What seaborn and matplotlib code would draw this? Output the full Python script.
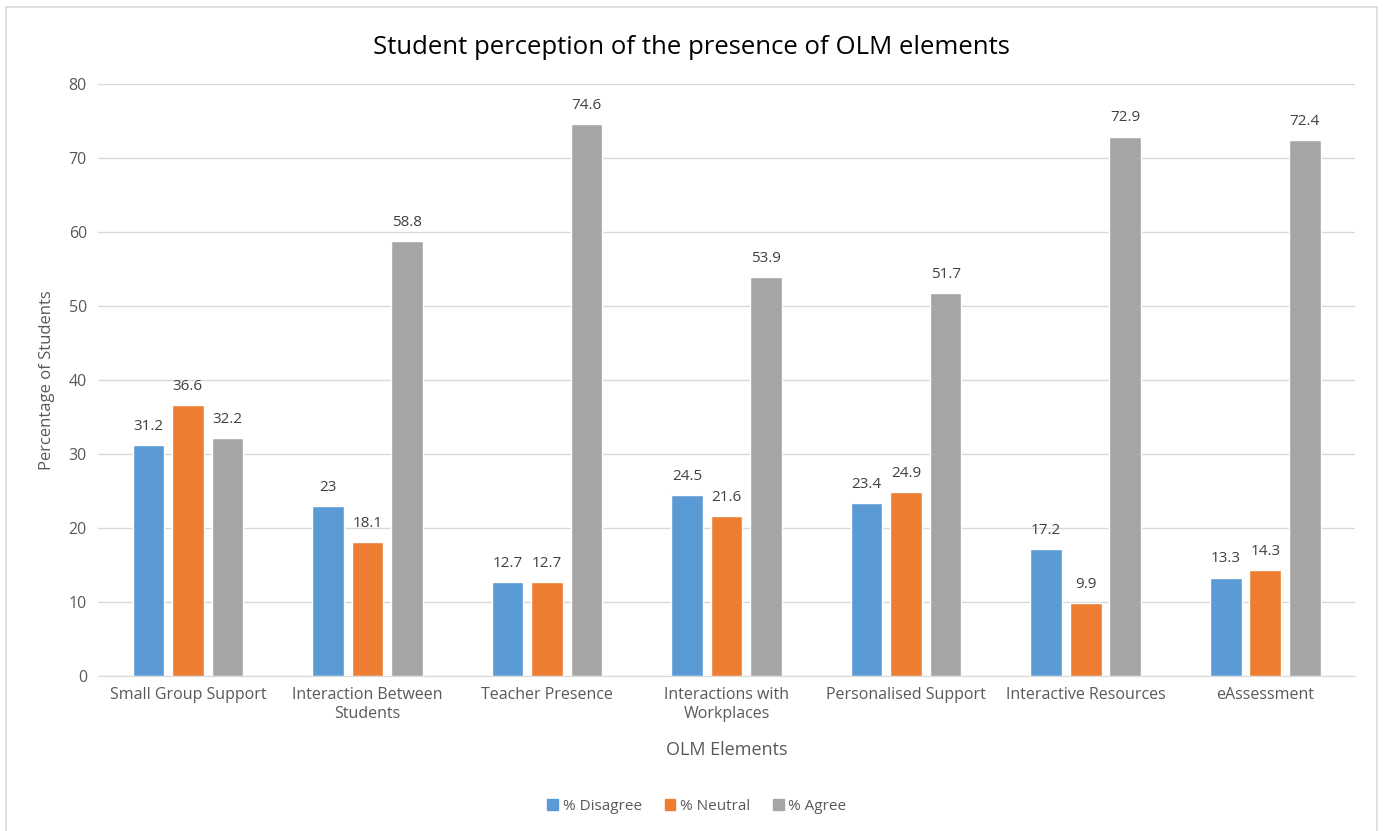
import seaborn as sns
import numpy as np
import matplotlib.pyplot as plt
import matplotlib.patches as mpatches
import pandas as pd

# data
elements = ['Small Group Support', 'Interaction Between\nStudents', 'Teacher Presence',
            'Interactions with\nWorkplaces', 'Personalised Support', 'Interactive Resources',
            'eAssessment']
series = ['% Disagree', '% Neutral', '% Agree']
disagree = [31.2, 23, 12.7, 24.5, 23.4, 17.2, 13.3]
neutral = [36.6, 18.1, 12.7, 21.6, 24.9, 9.9, 14.3]
agree = [32.2, 58.8, 74.6, 53.9, 51.7, 72.9, 72.4]

colors = ['#5B9BD5', '#ED7D31', '#A5A5A5']

df = pd.DataFrame({
    'element': elements * 3,
    'series': [s for s in series for _ in elements],
    'value': disagree + neutral + agree,
})

sns.set_style('white')
plt.rcParams['font.family'] = ['Open Sans', 'DejaVu Sans']

fig = plt.figure(figsize=(13.83, 8.31), dpi=100)
ax = fig.add_axes([0.0709, 0.1865, 0.9089, 0.7124])

sns.barplot(data=df, x='element', y='value', hue='series', order=elements,
            hue_order=series, palette=colors, width=0.66, gap=0.2, ax=ax,
            legend=False, saturation=1)

# value labels
for cont in ax.containers:
    ax.bar_label(cont, labels=[f'{v:g}' for v in cont.datavalues], padding=8,
                 fontsize=11, color='#404040')

ax.set_ylim(0, 80)
ax.set_yticks(range(0, 81, 10))
ax.set_xlim(-0.5, len(elements) - 0.5)
ax.yaxis.grid(True, color='#D9D9D9', linewidth=1)
ax.set_axisbelow(True)
for s in ['top', 'right', 'left']:
    ax.spines[s].set_visible(False)
ax.spines['bottom'].set_color('#D9D9D9')
ax.tick_params(axis='both', length=0, labelsize=11.5, labelcolor='#595959', pad=8)

ax.set_xlabel('OLM Elements', fontsize=13, color='#595959', labelpad=14)
ax.set_ylabel('Percentage of Students', fontsize=12, color='#595959', labelpad=10)
fig.text(0.5, 0.943, 'Student perception of the presence of OLM elements',
         ha='center', va='center', fontsize=18.5, color='#000000')

handles = [mpatches.Patch(color=c, label=s) for c, s in zip(colors, series)]
fig.legend(handles=handles, loc='center', bbox_to_anchor=(0.504, 0.03), ncol=3,
           frameon=False, fontsize=11, handlelength=0.7, handleheight=0.7,
           handletextpad=0.3, columnspacing=1.5, labelcolor='#595959')

# chart area border
fig.patches.append(mpatches.Rectangle((6 / 1383, -0.01), 1371 / 1383, 1 - 7 / 831 + 0.01,
                                      transform=fig.transFigure, fill=False,
                                      edgecolor='#D9D9D9', linewidth=1.2))

fig.savefig('out.png', dpi=100)
